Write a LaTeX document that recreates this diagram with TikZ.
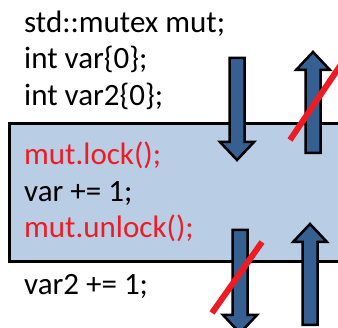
\documentclass[tikz,border=0pt]{standalone}
\usepackage{fontspec}
\setmainfont{Carlito}
\definecolor{boxblue}{RGB}{185,205,229}
\definecolor{arrowblue}{RGB}{55,96,146}
\definecolor{slashred}{RGB}{237,28,36}
\tikzset{
  codeline/.style={anchor=base west, inner sep=0pt, font=\fontsize{31}{35}\selectfont},
  lockline/.style={codeline, text=slashred},
  fatarrowstyle/.style={line width=2.5, draw=black, fill=arrowblue, line join=miter},
  slash/.style={line width=6, draw=slashred}
}
% fat block arrow: (x : tail y : tip y)
\def\fatarrow(#1:#2:#3){%
  \pgfmathsetmacro\headbase{#3-18*sign(#3-#2)}%
  \draw[fatarrowstyle] ({#1-7.5},#2) -- ({#1-7.5},\headbase) -- ({#1-17},\headbase) -- (#1,#3)
    -- ({#1+17},\headbase) -- ({#1+7.5},\headbase) -- ({#1+7.5},#2) -- cycle;}

\begin{document}
\begin{tikzpicture}[x=1pt, y=-1pt]
			%%%%% START %%%%%
			\useasboundingbox (0,0) rectangle (338,328);
			\clip (0,0) rectangle (338,328);
			
			\draw[line width=3, fill=boxblue] (9.5,124) rectangle (350,262);
			
			\node[codeline] (decl1) at (24,33) {std::mutex mut;};
			\node[codeline] (decl2) at (24,69) {int var\{0\};};
			\node[codeline] (decl3) at (24,106) {int var2\{0\};};
			
			\node[lockline] (lock) at (24,165) {mut.lock();};
			\node[codeline] (incr) at (24,202) {var += 1;};
			\node[lockline] (unlock) at (24,238) {mut.unlock();};
			
			\node[codeline] (incr2) at (24,295) {var2 += 1;};
			
			\fatarrow(237:58:160)
			\fatarrow(313:153:52)
			\fatarrow(240:230:333)
			\fatarrow(310:325:224)
			
			\draw[slash] (290,140) -- (342,63);
			\draw[slash] (212,313) -- (262,242);
			%%%%% END %%%%%
\end{tikzpicture}
\end{document}
